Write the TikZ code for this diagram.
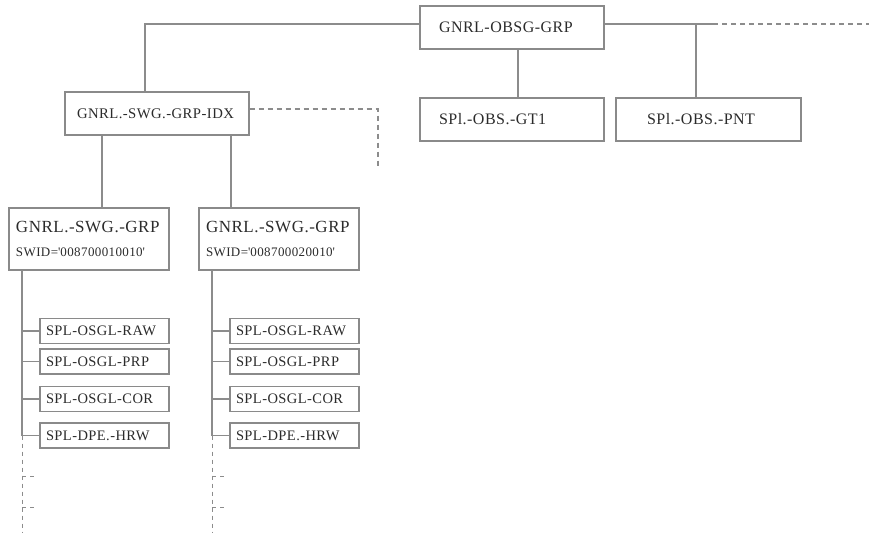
\documentclass[tikz,border=0pt]{standalone}
\usepackage{fontspec}
\setmainfont[LetterSpace=3]{Liberation Serif}
\definecolor{wire}{HTML}{8C8C8C}
\definecolor{frame}{HTML}{8A8A8A}
\definecolor{ink}{HTML}{2B2B2B}
\newcommand\swidfont{\fontsize{13}{15}\selectfont}
\begin{document}
\begin{tikzpicture}[x=1pt,y=-1pt,
  box/.style={draw=frame, line width=1.3pt, rectangle, inner ysep=0pt,
    align=left, text=ink},
  topbox/.style={box, minimum height=43pt, font=\fontsize{16}{18}\selectfont},
  groupbox/.style={box, minimum height=62pt, inner xsep=7pt, text width=146pt,
    font=\fontsize{17}{24}\selectfont},
  leaf/.style={box, minimum height=25pt, inner xsep=6pt, text width=117pt,
    font=\fontsize{14.5}{16}\selectfont},
  link/.style={draw=wire, line width=1.2pt},
  more/.style={draw=wire, line width=1.2pt, dash pattern=on 5pt off 4pt},
  stub/.style={draw=wire, line width=1pt, dash pattern=on 4pt off 4pt}]
\useasboundingbox (0,0) rectangle (869,533);

% upper level
\node[topbox, inner xsep=19pt, text width=146pt] (obsg) at (512,27.5) {GNRL-OBSG-GRP};
\node[topbox, inner xsep=19pt, text width=146pt] (gt1) at (512,119.5) {SPl.-OBS.-GT1};
\node[topbox, inner xsep=31pt, text width=123pt] (pnt) at (708.5,119.5) {SPl.-OBS.-PNT};
\node[topbox, inner xsep=12pt, text width=160pt, font=\fontsize{14.7}{17}\selectfont]
  (idx) at (157,113.5) {GNRL.-SWG.-GRP-IDX};

% software groups
\node[groupbox] (g1) at (89,239)
  {GNRL.-SWG.-GRP\\{\swidfont SWID=\textquotesingle008700010010\textquotesingle}};
\node[groupbox] (g2) at (279,239)
  {GNRL.-SWG.-GRP\\{\swidfont SWID=\textquotesingle008700020010\textquotesingle}};

% leaves under each group
\node[leaf] (r1) at (104.5,331)   {SPL-OSGL-RAW};
\node[leaf] (p1) at (104.5,361.5) {SPL-OSGL-PRP};
\node[leaf] (c1) at (104.5,399)   {SPL-OSGL-COR};
\node[leaf] (h1) at (104.5,435.5) {SPL-DPE.-HRW};
\node[leaf] (r2) at (294.5,331)   {SPL-OSGL-RAW};
\node[leaf] (p2) at (294.5,361.5) {SPL-OSGL-PRP};
\node[leaf] (c2) at (294.5,399)   {SPL-OSGL-COR};
\node[leaf] (h2) at (294.5,435.5) {SPL-DPE.-HRW};

% junction points
\coordinate (bus) at (145,24);
\coordinate (jr) at (696,24);
\coordinate (solidend) at (713,24);
\coordinate (rightend) at (869,24);
\coordinate (idxc) at (378,109);
\coordinate (idxd) at (378,166);
\coordinate (t1) at (22,270);
\coordinate (t2) at (212,270);
\coordinate (e1) at (22,533);
\coordinate (e2) at (212,533);

% top bus
\draw[link] ([yshift=3.5pt]obsg.west) -- (bus) -- (bus |- idx.north);
\draw[link] ([yshift=3.5pt]obsg.east) -- (solidend);
\draw[more] (solidend) -- (rightend);
\draw[link] (jr) -- (jr |- pnt.north);
\draw[link] ([xshift=6pt]obsg.south) -- ([xshift=6pt]gt1.north);

% index to groups
\draw[link] ([xshift=-55pt]idx.south) -- ([xshift=13pt]g1.north);
\draw[link] ([xshift=74pt]idx.south) -- ([xshift=-48pt]g2.north);
\draw[more] ([yshift=4.5pt]idx.east) -- (idxc) -- (idxd);

% trunks and branches
\foreach \t/\e/\r/\p/\c/\h in {t1/e1/r1/p1/c1/h1, t2/e2/r2/p2/c2/h2}{
  \draw[link] (\t) -- (\t |- \h.west);
  \draw[stub] (\t |- \h.west) -- (\e);
  \foreach \n in {\r,\p,\c,\h}
    \draw[link] (\t |- \n.west) -- (\n.west);
  \draw[stub] ([yshift=-41pt]\t |- \h.west) -- ++(15,0);
  \draw[stub] ([yshift=-72pt]\t |- \h.west) -- ++(15,0);
}
\end{tikzpicture}
\end{document}
